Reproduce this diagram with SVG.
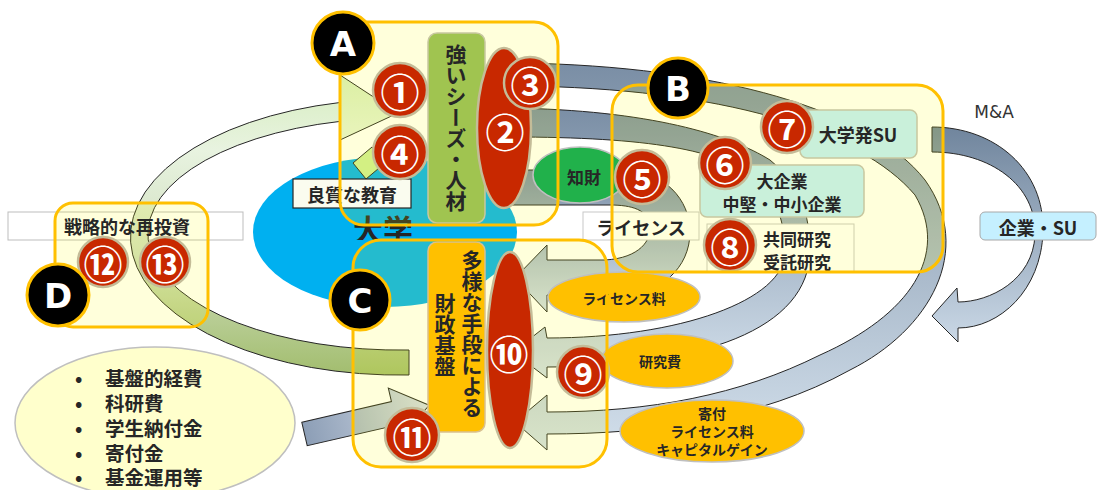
<svg xmlns="http://www.w3.org/2000/svg" width="1097" height="490" viewBox="0 0 1097 490">
<defs>
<style>
.box{fill:#FFFF00;fill-opacity:0.14;stroke:none}
.boxs{fill:none;stroke:#FFC000;stroke-width:3}
.num{fill:#C82800;stroke:#C4BC98;stroke-width:2.5}
.nt{font-family:"Noto Sans CJK JP","Noto Sans CJK SC",sans-serif;font-weight:700;font-size:39px;fill:#fff;text-anchor:middle;dominant-baseline:central}
.let{fill:#000;stroke:#FFC000;stroke-width:3}
.lt{font-family:"DejaVu Sans",sans-serif;font-weight:700;font-size:34px;fill:#fff;text-anchor:middle;dominant-baseline:central}
.jp{font-family:"Noto Sans CJK JP","Noto Sans CJK SC",sans-serif;font-weight:700;fill:#262626;text-anchor:middle;dominant-baseline:central}
.vt{font-family:"Noto Sans CJK JP","Noto Sans CJK SC",sans-serif;font-weight:700;fill:#262626;text-anchor:middle;writing-mode:vertical-rl;font-size:21px}
.band{stroke:#262626;stroke-width:1}
.oval{fill:#FFC000;stroke:#BFBFBF;stroke-width:1.5}
.lbl{fill:#fff;stroke:#C8C8C8;stroke-width:1}
</style>
<linearGradient id="gG" gradientUnits="userSpaceOnUse" x1="0" y1="75" x2="0" y2="375">
<stop offset="0" stop-color="#D6EDBE"/><stop offset="0.25" stop-color="#E8F3E0"/><stop offset="0.6" stop-color="#D0DFBF"/><stop offset="1" stop-color="#A2BD6E"/>
</linearGradient>
<linearGradient id="gS" x1="0" y1="0" x2="0" y2="1">
<stop offset="0" stop-color="#7A8EA5"/><stop offset="1" stop-color="#D2DFEB"/>
</linearGradient>
<linearGradient id="gM" x1="0" y1="0" x2="0" y2="1">
<stop offset="0" stop-color="#70859D"/><stop offset="1" stop-color="#CAD8E6"/>
</linearGradient>
<linearGradient id="gA" x1="0" y1="0" x2="1" y2="0">
<stop offset="0" stop-color="#8C9EB6"/><stop offset="1" stop-color="#D6DDE8"/>
</linearGradient>
<clipPath id="clipU"><rect x="0" y="0" width="1097" height="240"/></clipPath>
</defs>
<rect width="1097" height="490" fill="#fff"/>

<g id="university">
<ellipse cx="385" cy="232" rx="132" ry="75" fill="#00B0F0"/>
<text class="jp" x="383" y="228" font-size="30" fill="#000" clip-path="url(#clipU)">大学</text>
</g>

<rect x="8" y="212" width="235" height="28" fill="none" stroke="#BDBDBD" stroke-width="1"/>

<g id="connectors">
<path class="band" fill="url(#gG)" d="M340,102.5 A269,138 0 0 0 409,375 L409,350 A252,116 0 0 1 340,121.4 L340,140 L398,113 L340,75 Z"/>
<polygon points="353,163 372,147 385,163 366,179" fill="#CCEE99" stroke="#262626" stroke-width="1"/>
<path class="band" fill="url(#gS)" d="M520,63 C720,66 870,110 925,180 C975,250 930,330 850,370 C760,420 650,434 547,434 L547,450 L515,422 L547,395 L547,412 C650,412 740,395 820,355 C910,315 950,255 915,195 C860,130 720,88 520,86 Z"/>
<path class="band" fill="url(#gS)" d="M510,108 C650,110 730,135 770,160 C800,185 810,215 810,250 C810,330 700,367 547,367 L547,378 L513,352 L545,327 L547,338 C680,338 785,300 785,252 C785,220 775,195 755,178 C720,150 650,137 510,137 Z"/>
<path class="band" fill="url(#gS)" d="M505,170 L620,170 C665,170 690,200 690,232 C690,268 660,295 620,295 L547,295 L547,312 L515,278 L547,245 L547,260 L605,260 C640,258 652,240 650,225 C648,210 632,205 610,205 L505,205 Z"/>
<path class="band" fill="url(#gM)" d="M932,127 C995,127 1045,170 1043,232 C1041,290 1000,328 958,328 L958,342 L932,316 L957,288 L958,302 C990,302 1033,280 1035,235 C1037,185 990,152 932,152 Z"/>
<g transform="translate(304.5,434) rotate(-13)">
<path class="band" fill="url(#gA)" d="M0,-12 L92,-12 L92,-26 L128,0 L92,26 L92,12 L0,12 Z"/>
</g>
</g>

<rect class="lbl" x="583" y="212" width="116" height="28"/>
<rect class="lbl" x="707" y="224" width="147" height="48"/>

<g id="boxfills">
<rect class="box" x="340" y="22" width="218" height="203" rx="24"/>
<rect class="box" x="612" y="85" width="331" height="187" rx="26"/>
<rect class="box" x="353" y="240" width="254" height="227" rx="28"/>
<rect class="box" x="55" y="203" width="153" height="124" rx="18"/>
</g>

<g id="funds">
<ellipse cx="155" cy="423" rx="140" ry="76" fill="#FFFFCC" stroke="#BFBFBF" stroke-width="1.5"/>
<g class="jp" font-size="19.5" style="text-anchor:start">
<text x="75" y="377">•</text><text x="105" y="377">基盤的経費</text>
<text x="75" y="402">•</text><text x="105" y="402">科研費</text>
<text x="75" y="427">•</text><text x="105" y="427">学生納付金</text>
<text x="75" y="452">•</text><text x="105" y="452">寄付金</text>
<text x="75" y="476">•</text><text x="105" y="476">基金運用等</text>
</g>
</g>

<g id="reinvest-label"><text class="jp" x="127" y="226" font-size="18">戦略的な再投資</text></g>
<g id="n12"><circle class="num" cx="103" cy="262" r="25"/><text class="nt" x="103" y="262" font-size="37">⑫</text></g>
<g id="n13"><circle class="num" cx="165" cy="262" r="25"/><text class="nt" x="165" y="262" font-size="37">⑬</text></g>

<g id="education"><rect x="293" y="179" width="118" height="29" fill="#FAFCEF" stroke="#262626" stroke-width="1.2"/><text class="jp" x="352" y="194" font-size="18">良質な教育</text></g>
<g id="seeds"><rect x="428" y="33" width="57" height="190" rx="9" fill="#A0C450" stroke="#C8C8A0" stroke-width="1.5"/><text class="vt" x="456" y="128">強いシーズ・人材</text></g>
<g id="n1"><circle class="num" cx="400" cy="90" r="27"/><text class="nt" x="400" y="90">①</text></g>
<g id="n4"><circle class="num" cx="400" cy="152" r="27"/><text class="nt" x="400" y="152">④</text></g>
<g id="n2"><ellipse class="num" cx="504" cy="128" rx="27" ry="80"/><text class="nt" x="505" y="130">②</text></g>
<g id="n3"><circle class="num" cx="530" cy="83" r="26"/><text class="nt" x="530" y="83">③</text></g>

<g id="ip"><ellipse cx="580" cy="175" rx="47" ry="28" fill="#21B14B" stroke="#BFBFBF" stroke-width="1.5"/><text class="jp" x="584" y="176" font-size="17" fill="#fff">知財</text></g>
<g id="n5"><circle class="num" cx="642" cy="177" r="27"/><text class="nt" x="642" y="177">⑤</text></g>
<g id="license"><text class="jp" x="641" y="227" font-size="18">ライセンス</text></g>

<g id="su"><rect x="800" y="110" width="117" height="48" rx="7" fill="#C9F0DA" stroke="#C8C8A0" stroke-width="1.5"/><text class="jp" x="858" y="134" font-size="18">大学発SU</text></g>
<g id="n7"><circle class="num" cx="787" cy="127" r="26"/><text class="nt" x="787" y="127">⑦</text></g>
<g id="corp"><rect x="700" y="165" width="164" height="52" rx="7" fill="#C9F0DA" stroke="#C8C8A0" stroke-width="1.5"/><text class="jp" x="782" y="180" font-size="17">大企業</text><text class="jp" x="782" y="203" font-size="17">中堅・中小企業</text></g>
<g id="n6"><circle class="num" cx="725" cy="163" r="26"/><text class="nt" x="725" y="163">⑥</text></g>
<g id="research"><text class="jp" x="797" y="238" font-size="17">共同研究</text><text class="jp" x="797" y="261" font-size="17">受託研究</text></g>
<g id="n8"><circle class="num" cx="730" cy="245" r="26"/><text class="nt" x="730" y="245">⑧</text></g>

<g id="ma"><text x="994" y="118" font-family="DejaVu Sans,sans-serif" font-size="17" fill="#333" text-anchor="middle">M&amp;A</text></g>
<g id="corp-su"><rect x="980" y="212" width="116" height="28" rx="5" fill="#C5F0FF" stroke="#A8A8A8" stroke-width="1"/><text class="jp" x="1038" y="227" font-size="18">企業・SU</text></g>

<g id="finance"><rect x="428" y="242" width="57" height="190" rx="9" fill="#FFC000" stroke="#D9C090" stroke-width="1.5"/><text class="vt" x="472" y="334">多様な手段による</text><text class="vt" x="445" y="335">財政基盤</text></g>
<g id="n10"><ellipse class="num" cx="510" cy="350" rx="23" ry="98"/><text class="nt" x="509" y="352">⑩</text></g>
<g id="fee"><ellipse class="oval" cx="624" cy="297" rx="76" ry="25"/><text class="jp" x="624" y="298" font-size="14">ライセンス料</text></g>
<g id="resfee"><ellipse class="oval" cx="667" cy="361" rx="66" ry="27"/><text class="jp" x="660" y="361" font-size="14">研究費</text></g>
<g id="n9"><circle class="num" cx="583" cy="372" r="26"/><text class="nt" x="583" y="372">⑨</text></g>
<g id="donation"><ellipse class="oval" cx="712" cy="431" rx="92" ry="31"/><text class="jp" x="712" y="413" font-size="14">寄付</text><text class="jp" x="712" y="431" font-size="14">ライセンス料</text><text class="jp" x="712" y="449" font-size="14">キャピタルゲイン</text></g>
<g id="n11"><circle class="num" cx="412" cy="435" r="27"/><text class="nt" x="412" y="435">⑪</text></g>

<g id="boxborders">
<rect class="boxs" x="340" y="22" width="218" height="203" rx="24"/>
<rect class="boxs" x="612" y="85" width="331" height="187" rx="26"/>
<rect class="boxs" x="353" y="240" width="254" height="227" rx="28"/>
<rect class="boxs" x="55" y="203" width="153" height="124" rx="18"/>
</g>

<g id="A"><circle class="let" cx="343" cy="43" r="31"/><text class="lt" x="343" y="44">A</text></g>
<g id="B"><circle class="let" cx="678" cy="88" r="30"/><text class="lt" x="678" y="89">B</text></g>
<g id="C"><circle class="let" cx="360" cy="300" r="30"/><text class="lt" x="360" y="301">C</text></g>
<g id="D"><circle class="let" cx="58" cy="295" r="31"/><text class="lt" x="58" y="296">D</text></g>
</svg>
